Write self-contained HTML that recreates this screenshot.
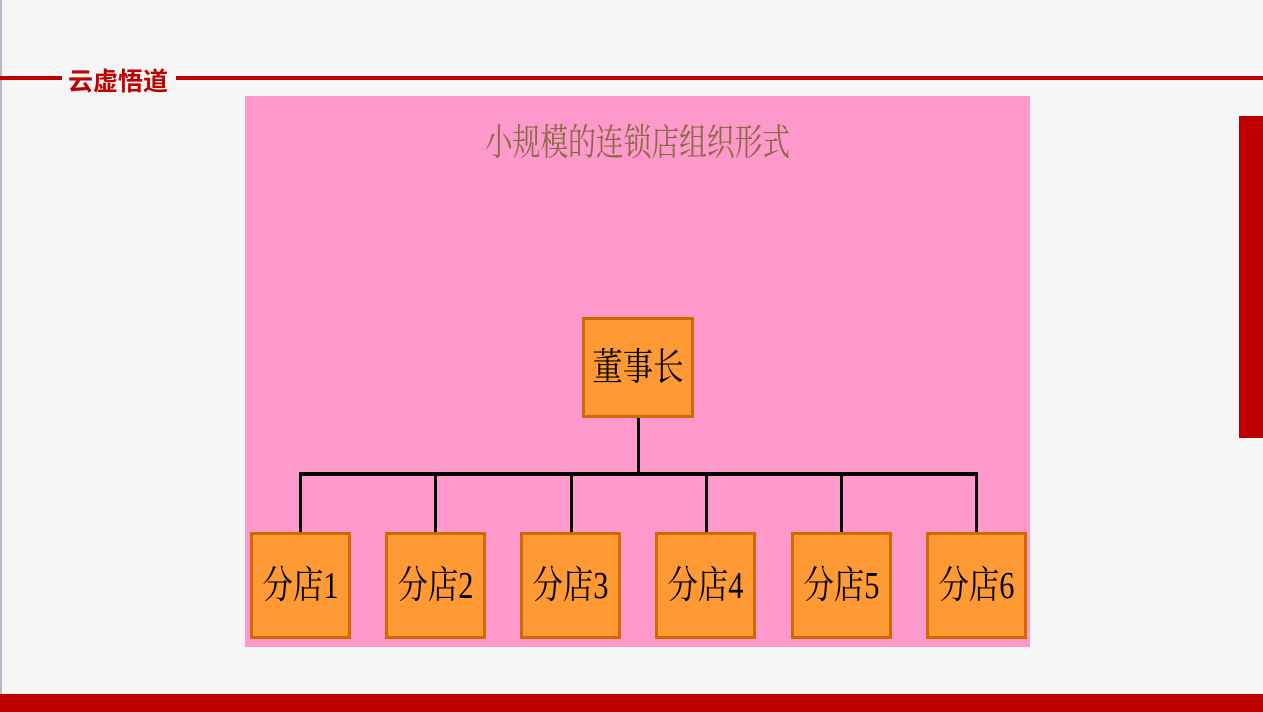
<!DOCTYPE html>
<html><head><meta charset="utf-8"><style>
body{margin:0;width:1263px;height:712px;position:relative;overflow:hidden;background:#f6f6f6;font-family:"Liberation Serif","Noto Serif CJK SC",serif}
div{position:absolute;box-sizing:border-box}
.b{background:#ff9933;border:3px solid #d06a00;display:flex;align-items:center;justify-content:center;font-size:38px;color:#000;padding-bottom:8px}
.b span{display:inline-block;transform:scaleX(.8);white-space:nowrap}
.v{background:#000;width:3px}
</style></head><body>
<div style="left:0;top:0;width:2px;height:712px;background:#b8b8c8"></div>
<div style="left:0;top:76px;width:62px;height:4px;background:#c00000"></div>
<div style="left:176px;top:76px;width:1087px;height:4px;background:#c00000"></div>
<div style="left:68px;top:62px;font:bold 25px 'Liberation Sans','Noto Sans CJK SC',sans-serif;color:#c00000">云虚悟道</div>
<div style="left:1239px;top:116px;width:24px;height:322px;background:#c00000"></div>
<div style="left:0;top:694px;width:1263px;height:18px;background:#c00000"></div>
<div style="left:245px;top:96px;width:785px;height:551px;background:#ff99cc"></div>
<div style="left:245px;top:112px;width:785px;text-align:center;font-size:37px;color:#8b6b45"><span style="display:inline-block;transform:scaleX(.75)">小规模的连锁店组织形式</span></div>
<div class="b" style="left:582px;top:317px;width:112px;height:101px"><span>董事长</span></div>
<div class="v" style="left:637px;top:418px;height:58px"></div>
<div style="left:299px;top:472px;width:679px;height:4px;background:#000"></div>
<div class="v" style="left:299px;top:475px;height:58px"></div>
<div class="v" style="left:434px;top:475px;height:58px"></div>
<div class="v" style="left:570px;top:475px;height:58px"></div>
<div class="v" style="left:705px;top:475px;height:58px"></div>
<div class="v" style="left:840px;top:475px;height:58px"></div>
<div class="v" style="left:975px;top:475px;height:58px"></div>
<div class="b" style="left:250px;top:532px;width:101px;height:107px"><span>分店1</span></div>
<div class="b" style="left:385px;top:532px;width:101px;height:107px"><span>分店2</span></div>
<div class="b" style="left:520px;top:532px;width:101px;height:107px"><span>分店3</span></div>
<div class="b" style="left:655px;top:532px;width:101px;height:107px"><span>分店4</span></div>
<div class="b" style="left:791px;top:532px;width:101px;height:107px"><span>分店5</span></div>
<div class="b" style="left:926px;top:532px;width:101px;height:107px"><span>分店6</span></div>
</body></html>
